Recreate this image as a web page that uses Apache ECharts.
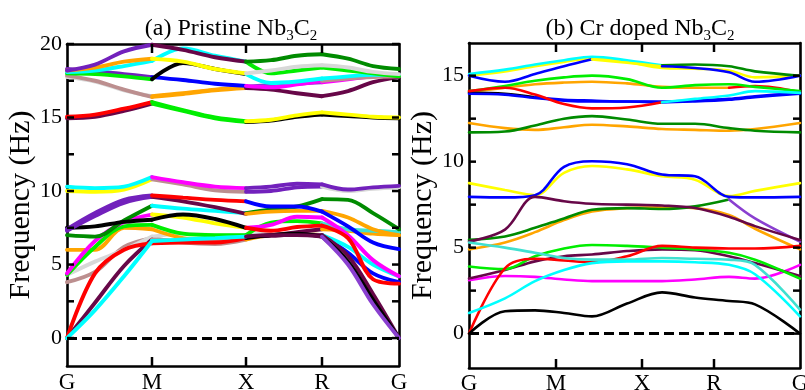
<!DOCTYPE html>
<html><head><meta charset="utf-8">
<script src="https://cdn.jsdelivr.net/npm/echarts@6/dist/echarts.min.js"></script>
<style>html,body{margin:0;padding:0;background:#fff}#c{width:805px;height:390px}</style>
</head><body><div id="c"></div>
<script>
// ---------- k-path (x) sample positions and labels ----------
const leftK = [0, 28, 57, 85, 116, 148, 179, 204, 230, 255, 281, 306, 332];
const leftTickPos = [0, 85, 179, 255, 332];
const rightK = [0, 36, 66, 95, 123, 158, 193, 226, 260, 286, 331];
const rightTickPos = [0, 87, 173, 245, 331];
const kLabels = ['G', 'M', 'X', 'R', 'G'];
const leftYRange = [-1.9, 20];
const leftYLabels = [0, 5, 10, 15, 20];
const leftYTicks = [0, 2.5, 5, 7.5, 10, 12.5, 15, 17.5, 20];
const rightYRange = [-2, 16.9];
const rightYLabels = [0, 5, 10, 15];
const rightYTicks = [0, 2.5, 5, 7.5, 10, 12.5, 15];
const titleA = '(a) Pristine Nb{s|3}C{s|2}';
const titleB = '(b) Cr doped Nb{s|3}C{s|2}';
const yName = 'Frequency (Hz)';

// ---------- (a) Pristine: band frequencies at leftK ----------
const leftBands = [
  [14.95,15.05,15.45,15.95, 15.45,14.95,14.7, 14.8,15.05,15.2, 15.1,15.0,14.95],
  [15.05,15.2,15.6,16.05, 15.5,15.0,14.75, 14.85,15.15,15.35, 15.2,15.05,15.0],
  [17.75,17.45,16.85,16.45, 16.65,16.9,17.1, 17.2,17.3,17.4, 17.6,17.8,17.85],
  [17.85,17.5,16.9,16.4, 16.6,16.85,17.0, 16.9,16.65,16.45, 16.8,17.4,17.75],
  [18.3,18.15,17.95,17.75, 17.55,17.3,17.15, 17.05,17.25,17.5, 17.65,17.75,17.8],
  [18.0,17.95,17.8,17.6, 18.7,18.3,17.95, 17.35,17.45,17.65, 17.8,17.9,17.9],
  [18.1,18.2,18.5,18.85, 19.7,19.2,18.8, 18.0,18.2,18.4, 18.2,18.0,17.8],
  [18.2,18.4,18.8,19.0, 18.8,18.3,18.0, 18.2,18.45,18.55, 18.4,18.1,17.95],
  [18.2,18.6,19.5,19.95, 19.6,19.1,18.8, 18.9,19.2,19.3, 19.0,18.5,18.3],
  [10.0,9.95,10.1,10.8, 10.45,10.05,9.95, 10.0,10.25,10.3, 10.0,10.15,10.25],
  [10.3,10.2,10.3,10.95, 10.6,10.3,10.2, 10.3,10.5,10.45, 10.1,10.25,10.35],
  [3.8,4.5,6.2,6.8, 6.5,6.4,6.7, 7.0,7.1,7.0, 5.8,4.4,3.8],
  [4.3,5.2,6.0,6.9, 7.1,7.0,7.0, 7.1,7.1,7.0, 6.2,5.0,4.2],
  [6.0,6.0,7.5,7.4, 6.8,6.65,6.9, 7.0,7.2,7.4, 7.3,7.1,7.0],
  [4.3,6.2,7.6,7.7, 7.1,7.0,7.0, 7.85,7.95,7.8, 7.4,7.3,7.2],
  [4.4,6.6,7.9,8.4, 8.2,7.8,7.5, 7.7,8.25,8.2, 7.0,5.3,4.2],
  [7.0,6.9,8.0,9.0, 8.8,8.65,8.5, 8.75,8.95,9.45, 9.4,8.5,7.4],
  [7.5,7.6,7.9,8.05, 8.4,8.1,7.5, 7.3,7.55,7.65, 6.8,4.0,3.7],
  [7.3,8.3,9.2,9.6, 9.3,8.9,8.45, 8.6,8.65,8.65, 8.2,7.4,7.0],
  [7.4,8.5,9.4,9.7, 9.55,9.4,9.3, 8.95,8.95,8.6, 7.6,6.5,6.05],
  [0.0,2.4,4.9,6.7, 6.6,6.55,6.9, 6.95,7.05,7.0, 5.6,3.0,0.0],
  [0.0,4.4,6.0,6.45, 6.5,6.5,6.8, 7.0,7.1,6.9, 5.2,2.6,0.0],
  [0.0,1.9,4.2,6.6, 6.7,6.8,6.9, 7.0,7.0,6.9, 5.0,2.3,0.0]
];
// colour of each band on G-M, M-X, X-R, R-G
const leftBandColors = [
  ['maroon','green','black','black'],
  ['red','green','yellow','yellow'],
  ['grey','orange','violet','magenta'],
  ['brown','orange','maroon','maroon'],
  ['indigo','blue','magenta','brown'],
  ['green','black','cyan','cyan'],
  ['cyan','cyan','green','green'],
  ['orange','yellow','grey','grey'],
  ['indigo','maroon','green4','green4'],
  ['yellow','brown','indigo','grey'],
  ['cyan','magenta','indigo','indigo'],
  ['brown','brown','orange','blue'],
  ['grey','grey','grey','cyan'],
  ['orange','orange','maroon','orange'],
  ['green','green','green','turq'],
  ['magenta','yellow','magenta','magenta'],
  ['green4','cyan','green4','green4'],
  ['black','black','red','red'],
  ['indigo','maroon','orange','orange'],
  ['indigo','red','blue','blue'],
  ['maroon','brown','maroon','maroon'],
  ['red','red','black','black'],
  ['cyan','cyan','maroon','violet']
];

// ---------- (b) Cr doped: band frequencies at rightK ----------
const rightBands = [
  [15.0,15.25,15.55,15.8,16.0,15.8,15.45,15.4,15.3,14.9,15.0],
  [15.1,15.35,15.65,15.9,16.1,15.9,15.6,15.65,15.55,15.25,15.0],
  [15.0,14.65,15.1,15.55,15.95,15.75,15.55,15.45,15.2,14.65,15.0],
  [14.05,14.3,14.5,14.6,14.65,14.55,14.35,14.3,14.3,14.4,14.05],
  [14.1,14.4,14.7,14.9,15.0,14.8,14.3,14.45,14.5,14.35,14.1],
  [14.0,13.95,13.75,13.6,13.55,13.5,13.5,13.55,13.65,13.8,14.0],
  [13.95,13.9,13.7,13.55,13.5,13.5,13.45,13.5,13.6,13.75,13.95],
  [14.1,14.3,13.9,13.35,13.1,13.15,13.45,13.65,13.85,14.1,14.0],
  [12.25,11.95,11.85,12.0,12.15,12.05,11.9,11.85,11.8,11.9,12.25],
  [11.7,11.75,12.1,12.5,12.65,12.45,12.2,12.2,11.95,11.8,11.7],
  [8.75,8.35,8.05,9.35,9.75,9.55,9.15,8.95,8.0,8.3,8.75],
  [7.95,7.92,8.05,9.7,10.02,9.85,9.25,9.15,7.95,7.92,7.95],
  [4.9,5.3,5.9,6.6,7.1,7.3,7.35,7.3,6.9,6.1,4.9],
  [5.45,5.65,6.15,6.7,7.2,7.3,7.25,7.4,7.8,6.7,5.35],
  [5.35,6.05,7.95,7.7,7.55,7.5,7.45,7.3,6.8,6.25,5.45],
  [3.1,3.35,3.3,3.15,3.05,3.05,3.05,3.15,3.3,3.2,4.0],
  [3.2,3.7,4.2,4.5,4.6,4.8,4.9,4.85,4.5,4.1,3.35],
  [3.9,3.75,4.5,4.95,5.15,5.1,5.0,4.9,4.7,4.3,3.2],
  [0.0,3.8,4.35,4.25,4.15,4.5,5.1,5.0,4.95,4.95,5.1],
  [5.3,5.0,4.7,4.4,4.3,4.3,4.4,4.35,4.3,4.0,1.4],
  [1.2,2.05,3.05,3.7,4.1,4.2,4.2,4.15,4.0,3.45,1.0],
  [0.0,1.3,1.35,1.2,1.0,1.75,2.4,2.1,1.9,1.7,0.0]
];
// colour changes: [start sample index, colour]
const rightBandColors = [
  [[0,'yellow']],
  [[0,'cyan'],[6,'green4']],
  [[0,'blue'],[4,'yellow'],[6,'blue']],
  [[0,'orange'],[8,'red']],
  [[0,'green']],
  [[0,'black'],[2,'blue']],
  [[0,'blue']],
  [[0,'red'],[6,'cyan']],
  [[0,'orange']],
  [[0,'green4']],
  [[0,'yellow']],
  [[0,'blue']],
  [[0,'orange']],
  [[0,'green4'],[8,'violet']],
  [[0,'maroon']],
  [[0,'magenta']],
  [[0,'maroon']],
  [[0,'green']],
  [[0,'red']],
  [[0,'turq']],
  [[0,'cyan']],
  [[0,'black']]
];

const PAL = {black:'#000000', red:'#ff0000', green:'#00ee00', blue:'#0000ff', yellow:'#ffff00',
  brown:'#bc8f8f', grey:'#d8d8d8', violet:'#8a3fd0', cyan:'#00ffff', magenta:'#ff00ff',
  orange:'#ffa500', indigo:'#7221bc', maroon:'#670748', turq:'#40e0d0', green4:'#008b00'};
const FONT = '"Liberation Serif", "Times New Roman", serif';

// axis indices: panel (a) uses x/y 0 (+1 = top/right frame), panel (b) uses x/y 2 (+3)
const series = [];
function addBands(bands, specs, ks, axisIdx, width) {
  bands.forEach((vals, b) => {
    const spec = specs[b];
    spec.forEach((sp, j) => {
      const start = sp[0];
      const end = j + 1 < spec.length ? spec[j + 1][0] : vals.length - 1;
      const data = [];
      for (let i = start; i <= end; i++) data.push([ks[i], vals[i]]);
      series.push({type: 'line', xAxisIndex: axisIdx, yAxisIndex: axisIdx, data,
        smooth: 0.35, symbol: 'none', silent: true, z: 3,
        lineStyle: {color: PAL[sp[1]], width: width, cap: 'round'}});
    });
  });
}
function zeroLine(axisIdx, ks) {
  series.push({type: 'line', xAxisIndex: axisIdx, yAxisIndex: axisIdx, symbol: 'none', silent: true, z: 4,
    data: [[ks[0], 0], [ks[ks.length - 1], 0]],
    lineStyle: {opacity: 0},
    markLine: {silent: true, symbol: 'none', animation: false, z: 5,
      label: {show: false},
      lineStyle: {color: '#000000', width: 2.8, type: [10, 5]},
      data: [{yAxis: 0}]}});
}
// inward-pointing tick marks on all four sides, placed through the axes' scales
function tickMarks(axisIdx, xTicks, yTicks, xr, yr) {
  series.push({type: 'custom', coordinateSystem: 'cartesian2d', xAxisIndex: axisIdx, yAxisIndex: axisIdx,
    silent: true, clip: false, z: 6, data: [[xr[0], yr[0]]],
    renderItem: function (params, api) {
      const st = {stroke: '#000', lineWidth: 2.5};
      const children = [];
      xTicks.forEach(v => {
        const b = api.coord([v, yr[0]]), t = api.coord([v, yr[1]]);
        children.push({type: 'line', shape: {x1: b[0], y1: b[1], x2: b[0], y2: b[1] - 9}, style: st});
        children.push({type: 'line', shape: {x1: t[0], y1: t[1], x2: t[0], y2: t[1] + 9}, style: st});
      });
      yTicks.forEach(v => {
        const l = api.coord([xr[0], v]), r = api.coord([xr[1], v]);
        children.push({type: 'line', shape: {x1: l[0], y1: l[1], x2: l[0] + 7, y2: l[1]}, style: st});
        children.push({type: 'line', shape: {x1: r[0], y1: r[1], x2: r[0] - 7, y2: r[1]}, style: st});
      });
      return {type: 'group', children: children};
    }});
}
addBands(leftBands, leftBandColors.map(c => [[0,c[0]],[3,c[1]],[6,c[2]],[9,c[3]]]), leftK, 0, 3.9);
addBands(rightBands, rightBandColors, rightK, 2, 2.6);
zeroLine(0, leftK);
zeroLine(2, rightK);
tickMarks(0, leftTickPos.slice(1, -1), leftYTicks, [leftK[0], leftK[leftK.length - 1]], leftYRange);
tickMarks(2, rightTickPos.slice(1, -1), rightYTicks, [rightK[0], rightK[rightK.length - 1]], rightYRange);

const axLine = {show: true, onZero: false, lineStyle: {color: '#000', width: 2.6}};
function xAxes(grid, max, tickPos, margin) {
  const base = {type: 'value', gridIndex: grid, min: 0, max: max, splitLine: {show: false},
    axisLine: axLine, axisTick: {show: false}};
  return [
    Object.assign({}, base, {position: 'bottom',
      axisLabel: {show: true, customValues: tickPos, margin: margin,
        formatter: v => kLabels[tickPos.indexOf(v)] || '',
        color: '#000', fontSize: 23, fontFamily: FONT}}),
    Object.assign({}, base, {position: 'top', axisLabel: {show: false}})
  ];
}
function yAxes(grid, yr, labels) {
  const base = {type: 'value', gridIndex: grid, min: yr[0], max: yr[1], splitLine: {show: false},
    axisLine: axLine, axisTick: {show: false}};
  return [
    Object.assign({}, base, {position: 'left',
      axisLabel: {show: true, customValues: labels, margin: 5, color: '#000', fontSize: 22, fontFamily: FONT},
      name: yName, nameLocation: 'middle', nameGap: 24,
      nameTextStyle: {color: '#000', fontSize: 30, fontFamily: FONT}}),
    Object.assign({}, base, {position: 'right', axisLabel: {show: false}})
  ];
}
function titleOf(text, cx) {
  return {text: text, left: cx, top: 14, textAlign: 'center', padding: 0,
    textStyle: {color: '#000', fontSize: 24, fontWeight: 'normal', fontFamily: FONT,
      lineHeight: 30, verticalAlign: 'bottom',
      rich: {s: {fontSize: 15, lineHeight: 14, verticalAlign: 'bottom', fontFamily: FONT, color: '#000'}}}};
}

const chart = echarts.init(document.getElementById('c'), null, {renderer: 'canvas'});
chart.setOption({
  animation: false,
  backgroundColor: '#fff',
  title: [titleOf(titleA, 231), titleOf(titleB, 640)],
  grid: [
    {left: 67, top: 44, width: 332, height: 322, outerBoundsMode: 'none', containLabel: false},
    {left: 469, top: 43, width: 331, height: 325, outerBoundsMode: 'none', containLabel: false}
  ],
  xAxis: [].concat(xAxes(0, 332, leftTickPos, 5), xAxes(1, 331, rightTickPos, 4)),
  yAxis: [].concat(yAxes(0, leftYRange, leftYLabels), yAxes(1, rightYRange, rightYLabels)),
  series: series
});
</script>
</body></html>
